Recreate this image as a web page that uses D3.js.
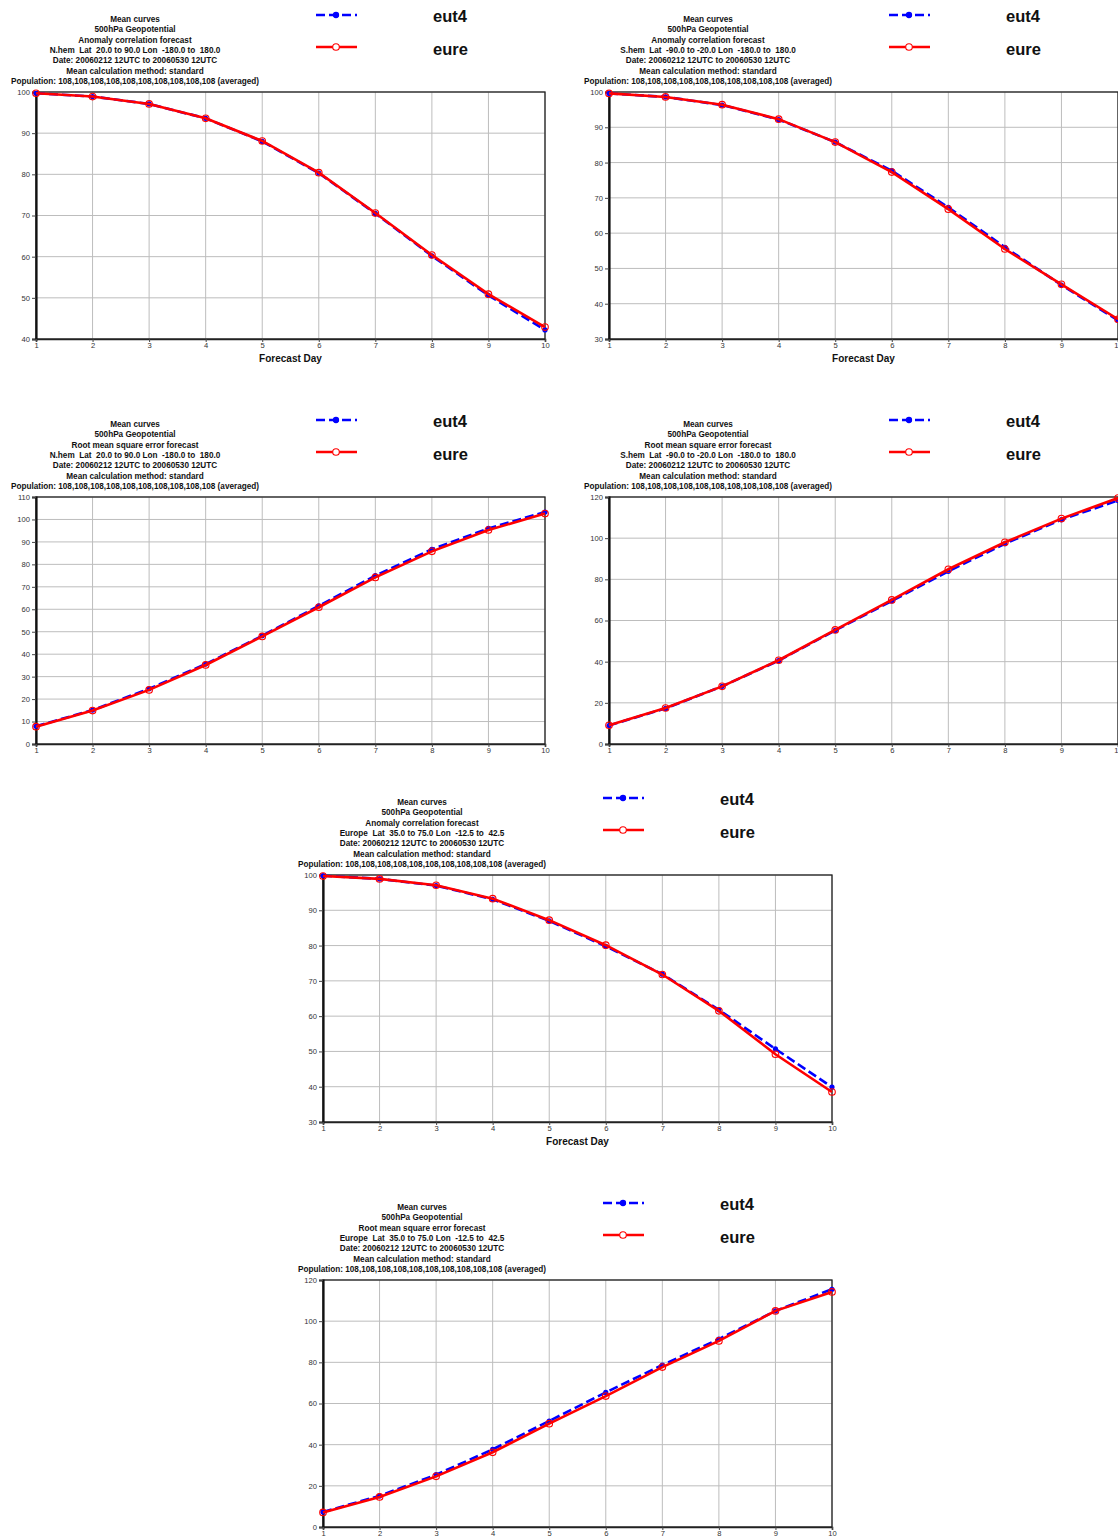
<!DOCTYPE html>
<html>
<head>
<meta charset="utf-8">
<script src="https://cdn.jsdelivr.net/npm/d3@7"></script>
<style>
  html, body { margin: 0; padding: 0; background: #fff; overflow: hidden; }
  svg { display: block; }
  text { font-family: "Liberation Sans", Arial, Helvetica, sans-serif; white-space: pre; }
</style>
</head>
<body>
<svg id="chart" width="1118" height="1537"></svg>
<script>
// Forecast days on the x axis
const days = [1, 2, 3, 4, 5, 6, 7, 8, 9, 10];

// Series names
const seriesNames = ["eut4", "eure"];

// Anomaly correlation, N.hem
const acNhemEut4 = [99.7, 98.9, 97.1, 93.6, 88.0, 80.3, 70.5, 60.2, 50.6, 42.2];
const acNhemEure = [99.7, 98.9, 97.1, 93.6, 88.1, 80.4, 70.6, 60.4, 50.9, 42.9];

// Anomaly correlation, S.hem
const acShemEut4 = [99.6, 98.6, 96.3, 92.2, 85.8, 77.7, 67.3, 56.0, 45.3, 35.3];
const acShemEure = [99.6, 98.6, 96.4, 92.3, 85.8, 77.3, 66.8, 55.5, 45.5, 35.6];

// RMSE, N.hem
const rmseNhemEut4 = [7.9, 15.1, 24.6, 35.6, 48.2, 61.5, 75.0, 86.7, 96.0, 103.3];
const rmseNhemEure = [7.7, 14.9, 24.1, 35.2, 47.9, 60.9, 74.2, 85.8, 95.3, 102.6];

// RMSE, S.hem
const rmseShemEut4 = [9.0, 17.3, 28.0, 40.5, 55.2, 69.5, 83.9, 97.3, 109.0, 118.3];
const rmseShemEure = [9.1, 17.5, 28.0, 40.7, 55.4, 70.0, 84.9, 98.0, 109.5, 119.5];

// Anomaly correlation, Europe
const acEurEut4 = [99.8, 98.9, 97.0, 93.1, 87.0, 79.8, 71.9, 61.8, 50.7, 39.9];
const acEurEure = [99.7, 98.9, 97.1, 93.3, 87.2, 80.1, 71.8, 61.5, 49.2, 38.5];

// RMSE, Europe
const rmseEurEut4 = [7.3, 15.1, 25.4, 37.7, 51.5, 65.4, 78.7, 91.3, 105.0, 115.5];
const rmseEurEure = [7.1, 14.6, 24.6, 36.3, 50.2, 63.6, 77.7, 90.4, 105.0, 114.2];

// Y tick values per panel
const ticksAcNhem = [40, 50, 60, 70, 80, 90, 100];
const ticksAc = [30, 40, 50, 60, 70, 80, 90, 100];
const ticksRmseNhem = [0, 10, 20, 30, 40, 50, 60, 70, 80, 90, 100, 110];
const ticksRmse = [0, 20, 40, 60, 80, 100, 120];

// Shared title lines
const titleHead = ["Mean curves", "500hPa Geopotential"];
const scoreAc = "Anomaly correlation forecast";
const scoreRmse = "Root mean square error forecast";
const areaNhem = "N.hem  Lat  20.0 to 90.0 Lon  -180.0 to  180.0";
const areaShem = "S.hem  Lat  -90.0 to -20.0 Lon  -180.0 to  180.0";
const areaEur = "Europe  Lat  35.0 to 75.0 Lon  -12.5 to  42.5";
const titleTail = [
  "Date: 20060212 12UTC to 20060530 12UTC",
  "Mean calculation method: standard",
  "Population: 108,108,108,108,108,108,108,108,108,108 (averaged)"
];
const xAxisTitle = "Forecast Day";

const panels = [
  { ox: 0,   oy: 0,    score: scoreAc,   area: areaNhem, yTicks: ticksAcNhem,   blue: acNhemEut4,   red: acNhemEure,   xTitle: true },
  { ox: 573, oy: 0,    score: scoreAc,   area: areaShem, yTicks: ticksAc,       blue: acShemEut4,   red: acShemEure,   xTitle: true },
  { ox: 0,   oy: 405,  score: scoreRmse, area: areaNhem, yTicks: ticksRmseNhem, blue: rmseNhemEut4, red: rmseNhemEure, xTitle: false },
  { ox: 573, oy: 405,  score: scoreRmse, area: areaShem, yTicks: ticksRmse,     blue: rmseShemEut4, red: rmseShemEure, xTitle: false },
  { ox: 287, oy: 783,  score: scoreAc,   area: areaEur,  yTicks: ticksAc,       blue: acEurEut4,    red: acEurEure,    xTitle: true },
  { ox: 287, oy: 1188, score: scoreRmse, area: areaEur,  yTicks: ticksRmse,     blue: rmseEurEut4,  red: rmseEurEure,  xTitle: false }
];

const BLUE = "#0000ff";
const RED = "#ff0000";
const GRID = "#bdbdbd";

// Plot frame inside each panel
const plot = { left: 36, right: 545, top: 92, bottom: 339 };

const svg = d3.select("#chart");

panels.forEach(p => {
  const g = svg.append("g").attr("transform", `translate(${p.ox},${p.oy})`);

  // Title block
  const lines = [...titleHead, p.score, p.area, ...titleTail];
  g.append("g").selectAll("text").data(lines).join("text")
    .attr("x", 135)
    .attr("y", (d, i) => 22 + i * 10.35)
    .attr("text-anchor", "middle")
    .attr("font-size", 8.2)
    .attr("font-weight", "bold")
    .attr("fill", "#111")
    .text(d => d);

  // Legend
  const leg = g.append("g");
  const legendRows = [
    { name: seriesNames[0], color: BLUE, dash: "9,4", y: 15, ty: 22, filled: true },
    { name: seriesNames[1], color: RED, dash: null, y: 47, ty: 54.5, filled: false }
  ];
  legendRows.forEach(r => {
    leg.append("line")
      .attr("x1", 316).attr("x2", 357).attr("y1", r.y).attr("y2", r.y)
      .attr("stroke", r.color).attr("stroke-width", 2.6)
      .attr("stroke-dasharray", r.dash);
    leg.append("circle")
      .attr("cx", 336).attr("cy", r.y).attr("r", r.filled ? 2.6 : 3.3)
      .attr("fill", r.filled ? r.color : "#fff")
      .attr("stroke", r.color).attr("stroke-width", 1.1);
    leg.append("text")
      .attr("x", 433).attr("y", r.ty)
      .attr("font-size", 16.5).attr("font-weight", "bold").attr("fill", "#111")
      .text(r.name);
  });

  // Scales
  const x = d3.scaleLinear().domain([1, 10]).range([plot.left, plot.right]);
  const y = d3.scaleLinear().domain(d3.extent(p.yTicks)).range([plot.bottom, plot.top]);

  // Grid
  const grid = g.append("g");
  grid.selectAll("line.gx").data(days).join("line")
    .attr("class", "gx")
    .attr("x1", d => x(d)).attr("x2", d => x(d))
    .attr("y1", plot.top).attr("y2", plot.bottom)
    .attr("stroke", GRID).attr("stroke-width", 1);
  grid.selectAll("line.gy").data(p.yTicks).join("line")
    .attr("class", "gy")
    .attr("x1", plot.left).attr("x2", plot.right)
    .attr("y1", d => y(d)).attr("y2", d => y(d))
    .attr("stroke", GRID).attr("stroke-width", 1);

  // Frame
  g.append("rect")
    .attr("x", plot.left).attr("y", plot.top)
    .attr("width", plot.right - plot.left).attr("height", plot.bottom - plot.top)
    .attr("fill", "none").attr("stroke", "#222").attr("stroke-width", 1.3);

  // Axes
  const yAxis = d3.axisLeft(y).tickValues(p.yTicks).tickSize(4).tickPadding(2).tickFormat(d3.format("d"));
  const gy = g.append("g").attr("transform", `translate(${plot.left},0)`).call(yAxis);
  gy.select(".domain").attr("stroke", "#111").attr("stroke-width", 2.2);
  gy.selectAll(".tick line").attr("stroke", "#444");
  gy.selectAll(".tick text").attr("font-size", 7.6).attr("fill", "#333")
    .attr("font-family", "'Liberation Sans', Arial, sans-serif");

  const xAxis = d3.axisBottom(x).tickValues(days).tickSize(3).tickPadding(1).tickFormat(d3.format("d"));
  const gx = g.append("g").attr("transform", `translate(0,${plot.bottom})`).call(xAxis);
  gx.select(".domain").attr("stroke", "#222").attr("stroke-width", 1.6);
  gx.selectAll(".tick line").attr("stroke", "#444");
  gx.selectAll(".tick text").attr("font-size", 7.6).attr("fill", "#333")
    .attr("font-family", "'Liberation Sans', Arial, sans-serif");

  if (p.xTitle) {
    g.append("text")
      .attr("x", (plot.left + plot.right) / 2).attr("y", 362)
      .attr("text-anchor", "middle")
      .attr("font-size", 10).attr("font-weight", "bold").attr("fill", "#111")
      .text(xAxisTitle);
  }

  // Series
  const line = d3.line().x((d, i) => x(days[i])).y(d => y(d));

  g.append("path").datum(p.blue)
    .attr("d", line).attr("fill", "none")
    .attr("stroke", BLUE).attr("stroke-width", 2.6).attr("stroke-dasharray", "9,4");
  g.append("g").selectAll("circle").data(p.blue).join("circle")
    .attr("cx", (d, i) => x(days[i])).attr("cy", d => y(d)).attr("r", 2.6)
    .attr("fill", BLUE);

  g.append("path").datum(p.red)
    .attr("d", line).attr("fill", "none")
    .attr("stroke", RED).attr("stroke-width", 2.6);
  g.append("g").selectAll("circle").data(p.red).join("circle")
    .attr("cx", (d, i) => x(days[i])).attr("cy", d => y(d)).attr("r", 3.3)
    .attr("fill", "none").attr("stroke", RED).attr("stroke-width", 1.1);
});
</script>
</body>
</html>
